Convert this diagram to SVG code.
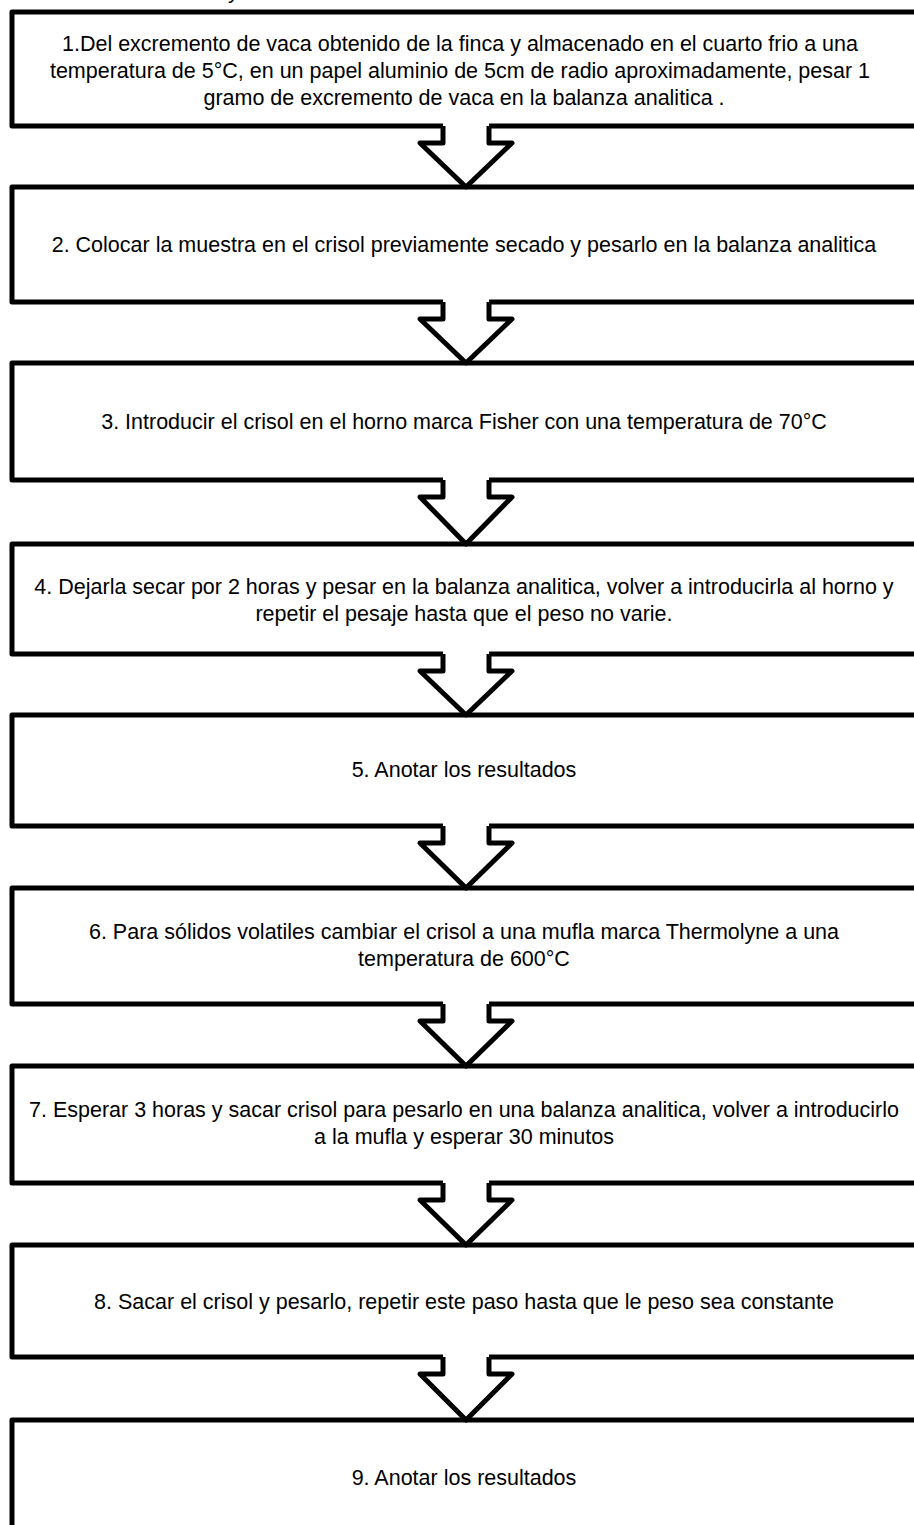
<svg xmlns="http://www.w3.org/2000/svg" width="914" height="1525" viewBox="0 0 914 1525">
<style>
.box{fill:#fff;stroke:#000;stroke-width:5;stroke-linejoin:round}
.t{font-family:"Liberation Sans",Arial,sans-serif;font-size:21.5px;fill:#000;text-anchor:middle}
.af{fill:#fff;stroke:none}
.as{fill:none;stroke:#000;stroke-width:5;stroke-linejoin:round;stroke-linecap:butt}
</style>
<rect x="0" y="0" width="914" height="1525" fill="#fff"/>
<text x="228" y="-2" style="font-family:'Liberation Sans',Arial,sans-serif;font-size:22px">y</text>
<g id="n1"><rect class="box" x="12" y="12" width="920" height="114"/>
<text class="t" x="460" y="51">1.Del excremento de vaca obtenido de la finca y almacenado en el cuarto frio a una</text>
<text class="t" x="460" y="78">temperatura de 5°C, en un papel aluminio de 5cm de radio aproximadamente, pesar 1</text>
<text class="t" x="464" y="105">gramo de excremento de vaca en la balanza analitica .</text></g>
<g id="n2"><rect class="box" x="12" y="187" width="920" height="115"/>
<text class="t" x="464" y="252">2. Colocar la muestra en el crisol previamente secado y pesarlo en la balanza analitica</text></g>
<g id="n3"><rect class="box" x="12" y="363" width="920" height="117"/>
<text class="t" x="464" y="429">3. Introducir el crisol en el horno marca Fisher con una temperatura de 70°C</text></g>
<g id="n4"><rect class="box" x="12" y="544" width="920" height="110"/>
<text class="t" x="464" y="594">4. Dejarla secar por 2 horas y pesar en la balanza analitica, volver a introducirla al horno y</text>
<text class="t" x="464" y="621">repetir el pesaje hasta que el peso no varie.</text></g>
<g id="n5"><rect class="box" x="12" y="715" width="920" height="111"/>
<text class="t" x="464" y="777">5. Anotar los resultados</text></g>
<g id="n6"><rect class="box" x="12" y="888" width="920" height="116"/>
<text class="t" x="464" y="939">6. Para sólidos volatiles cambiar el crisol a una mufla marca Thermolyne a una</text>
<text class="t" x="464" y="966">temperatura de 600°C</text></g>
<g id="n7"><rect class="box" x="12" y="1066" width="920" height="117"/>
<text class="t" x="464" y="1117">7. Esperar 3 horas y sacar crisol para pesarlo en una balanza analitica, volver a introducirlo</text>
<text class="t" x="464" y="1144">a la mufla y esperar 30 minutos</text></g>
<g id="n8"><rect class="box" x="12" y="1245" width="920" height="112"/>
<text class="t" x="464" y="1309">8. Sacar el crisol y pesarlo, repetir este paso hasta que le peso sea constante</text></g>
<g id="n9"><rect class="box" x="12" y="1420" width="920" height="130"/>
<text class="t" x="464" y="1485">9. Anotar los resultados</text></g>
<g id="connectors">
<g transform="translate(0,126)"><path class="af" d="M443,-3 L443,17 L420,17 L466,61 L512,17 L489,17 L489,-3Z"/><path class="as" d="M443,0 L443,17 L420,17 L466,61 L512,17 L489,17 L489,0"/></g>
<g transform="translate(0,302)"><path class="af" d="M443,-3 L443,17 L420,17 L466,61 L512,17 L489,17 L489,-3Z"/><path class="as" d="M443,0 L443,17 L420,17 L466,61 L512,17 L489,17 L489,0"/></g>
<g transform="translate(0,480)"><path class="af" d="M443,-3 L443,17 L420,17 L466,64 L512,17 L489,17 L489,-3Z"/><path class="as" d="M443,0 L443,17 L420,17 L466,64 L512,17 L489,17 L489,0"/></g>
<g transform="translate(0,654)"><path class="af" d="M443,-3 L443,17 L420,17 L466,61 L512,17 L489,17 L489,-3Z"/><path class="as" d="M443,0 L443,17 L420,17 L466,61 L512,17 L489,17 L489,0"/></g>
<g transform="translate(0,826)"><path class="af" d="M443,-3 L443,17 L420,17 L466,62 L512,17 L489,17 L489,-3Z"/><path class="as" d="M443,0 L443,17 L420,17 L466,62 L512,17 L489,17 L489,0"/></g>
<g transform="translate(0,1004)"><path class="af" d="M443,-3 L443,17 L420,17 L466,62 L512,17 L489,17 L489,-3Z"/><path class="as" d="M443,0 L443,17 L420,17 L466,62 L512,17 L489,17 L489,0"/></g>
<g transform="translate(0,1183)"><path class="af" d="M443,-3 L443,17 L420,17 L466,62 L512,17 L489,17 L489,-3Z"/><path class="as" d="M443,0 L443,17 L420,17 L466,62 L512,17 L489,17 L489,0"/></g>
<g transform="translate(0,1357)"><path class="af" d="M443,-3 L443,17 L420,17 L466,63 L512,17 L489,17 L489,-3Z"/><path class="as" d="M443,0 L443,17 L420,17 L466,63 L512,17 L489,17 L489,0"/></g>
</g>
</svg>
